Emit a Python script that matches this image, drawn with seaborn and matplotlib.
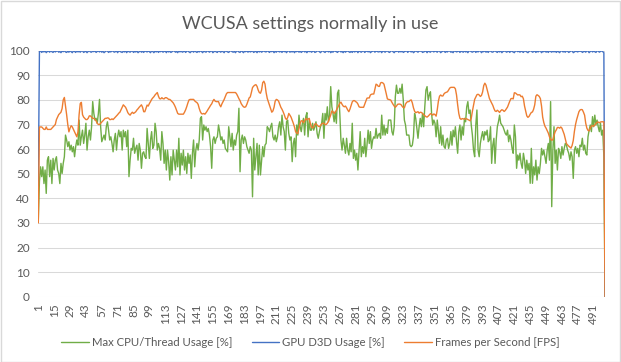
import numpy as np
import pandas as pd
import matplotlib
matplotlib.use("Agg")
import matplotlib.pyplot as plt
from matplotlib.patches import Rectangle
import seaborn as sns

title = "WCUSA settings normally in use"
series_names = ["Max CPU/Thread Usage [%]", "GPU D3D Usage [%]", "Frames per Second [FPS]"]
x_ticks = [1, 15, 29, 43, 57, 71, 85, 99, 113, 127, 141, 155, 169, 183, 197, 211, 225, 239,
           253, 267, 281, 295, 309, 323, 337, 351, 365, 379, 393, 407, 421, 435, 449, 463, 477, 491]
y_ticks = [0, 10, 20, 30, 40, 50, 60, 70, 80, 90, 100]

# ---- Max CPU/Thread Usage [%] (samples 1..501) ----
cpu_a = [31, 47, 52.8, 48.8, 52.8, 46, 51.5, 42, 55.5, 56.9, 48.8, 55.5,
         46, 56.2, 51.5, 55.5, 56.9, 51.5, 50.1, 46, 54.2, 50.1,
         54.2, 56.9, 65.7, 63.7, 61, 63, 59.6, 61.6, 58.9, 61,
         56.9, 61, 63.7, 61.6, 71.8, 61.6, 65, 67.7, 62.3, 65.7,
         70.5, 59.6, 65, 67.7, 63.7, 69.1, 79.3, 74.5, 71.8, 72.5,
         70.5, 74.5, 80.2, 69.1, 63, 64.4, 65.7, 63.7, 69.1, 71.1,
         67.7, 63.7, 65, 62.3, 58.9, 63.7, 66.4, 59.6, 65, 67.7,
         65, 67.1, 59.6, 67.7, 65, 67.1, 61, 67.7, 48.8, 55.5,
         60.3, 59.6]
cpu_b = [64.4, 58.3, 60.3, 61.6, 55.5, 62.3, 59.6, 52.2, 58.3, 58.9,
         56.9, 56.2, 68.4, 62.3, 56.2, 63.7, 67.1, 60.3, 61.6, 70.5,
         67.1, 59.6, 62.3, 60.3, 55.5, 67.1, 62.3, 54.2, 59.6, 51.5,
         59.6, 54.9, 47.4, 56.9, 49.5, 59.6, 55.5, 51.5, 59.6, 52.8,
         64.4, 49.5, 58.3, 53.5, 59.6, 51.5, 56.9, 50.1, 58.3, 54.2,
         57.6, 48.1, 58.3, 63.7, 52.8, 59.6, 62.3, 59.6, 63.7, 72.5,
         73.2, 63.7, 69.8, 67.7, 69.1, 67.1, 68.4, 65.7, 61, 52.2,
         63.7, 65, 62.3, 64.4, 65, 69.8, 67.1, 63.7, 65, 62.3,
         63.7, 60.3, 59.6, 58.9]
cpu_c = [69.1, 65, 61, 66.4, 59.6, 63.7, 61.6, 65.7, 67.1, 76.6,
         50.8, 63.7, 65.7, 62.3, 65, 63.7, 61, 59.6, 58.3, 61,
         59.6, 40.6, 64.4, 51.5, 56.9, 62.3, 49.5, 61.6, 49.5, 55.5,
         61, 56.9, 61.6, 62.3, 69.1, 68.4, 67.1, 69.1, 70.5, 65,
         63.7, 65.7, 63, 65, 69.1, 71.1, 65.7, 73.8, 69.1, 67.1,
         59.6, 71.1, 71.8, 66.4, 63.7, 65, 54.9, 62.3, 64.4, 56.9,
         69.8, 65.7, 73.8, 69.1, 67.1, 70.5, 72.5, 65.7, 73.2, 74.8,
         65, 71.8, 67.7, 67.7, 70.5, 67.7, 69.1, 71.1, 66.4, 64.4,
         67.1, 69.1, 70.5, 74.5]
cpu_d = [64.4, 74.5, 71.8, 77.2, 71.1, 73.8, 85.4, 77.2, 74.5, 71.1,
         75.2, 70.5, 82.7, 84, 74.5, 63.7, 59.6, 64.4, 61.6, 58.3,
         64.4, 59.6, 57.6, 62.3, 58.9, 70.5, 56.2, 59.6, 55.5, 58.3,
         51.5, 59.6, 67.1, 56.9, 61, 58.3, 64.4, 56.9, 61.6, 67.7,
         62.3, 67.1, 60.3, 63.7, 65, 64.4, 68.4, 64.4, 65.7, 66.4,
         64.4, 73.8, 65.7, 69.8, 65.7, 68.4, 66.4, 71.8, 71.8, 71.8,
         67.1, 65.7, 69.1, 81.3, 86, 82.7, 82.7, 84.7, 82.7, 86.4,
         79.9, 71.8, 69.8, 65.7, 65.7, 65.7, 61.6, 61, 61.6, 65,
         74.5, 72.5, 68.4, 64.4]
cpu_e = [69.1, 72.5, 69.1, 74.5, 69.1, 77.2, 84, 85.4, 79.9, 82,
         83.3, 74.5, 69.8, 71.8, 70.5, 65, 71.8, 67.1, 62.3, 69.1,
         61.6, 65.7, 61, 60.3, 63.7, 64.4, 60.3, 62.3, 67.1, 61.6,
         67.7, 65, 69.1, 63, 58.3, 67.1, 69.8, 63.7, 69.1, 65.7,
         72.5, 71.1, 77.2, 79.3, 74.5, 75.9, 69.8, 65.7, 59.6, 56.9,
         69.8, 75.9, 59.6, 56.9, 62.3, 65, 67.1, 63.7, 67.1, 65.7,
         67.7, 63, 63.7, 69.1, 54.2, 61.6, 64.4, 54.2, 63.7, 69.1,
         71.1, 73.8, 70.5, 69.8, 69.1, 67.7, 66.4, 65.7, 67.7, 63,
         65.7, 63.7, 60.3, 58.3]
cpu_f = [69.8, 65, 52.2, 57.6, 55.5, 58.3, 54.2, 52.2, 58.3, 55.5,
         50.1, 55.5, 51.5, 54.2, 46.1, 60.3, 46.1, 52.8, 49.5, 55.5,
         47.4, 52.8, 50.1, 54.2, 60.3, 57.6, 59.6, 56.9, 54.2, 59.6,
         62.3, 55.5, 79.3, 36.6, 59.6, 69.1, 54.2, 59.6, 51.5, 60.3,
         58.9, 56.2, 61, 57.6, 60.3, 62.3, 61.6, 59.6, 58.3, 55.5,
         58.9, 56.9, 48.1, 59.6, 61, 58.3, 60.3, 56.9, 61.6, 61,
         64.4, 59.6, 61.6, 58.3, 57.6, 65, 67.7, 69.8, 67.1, 73.2,
         69.1, 73.8, 69.8, 71.8, 69.1, 67.1, 70.5, 65.7, 67.7, 56.9,
         0]

# ---- GPU D3D Usage [%] ----
gpu_a = [45,
         99.6, 100, 99.3, 99.8, 99.5, 100, 99.2, 99.7, 99.9, 99.4, 100, 99.6, 99.3, 99.9, 99.5, 99.8, 100, 99.4, 99.7, 99.2, 99.9, 99.6, 100, 99.5, 99.3,
         99.8, 99.4, 100, 99.6, 99.2, 99.9, 99.7, 99.3, 100, 99.5, 99.8, 99.4, 99.9, 100, 99.3, 99.6, 99.8, 99.2, 99.7, 100, 99.5, 99.4, 99.9, 99.6, 100,
         99.3, 99.7, 99.9, 99.5, 100, 99.4, 99.8, 99.2, 99.6, 100, 99.9, 99.3, 99.7, 99.5, 100, 99.8, 99.4, 99.6, 99.9, 99.2, 100, 99.7, 99.5, 99.3, 99.8,
         99.5, 99.9, 99.2, 100, 99.6, 99.4, 99.8, 100, 99.3, 99.7, 99.5, 99.9, 99.2, 99.6, 100, 99.4, 99.8, 99.3, 100, 99.7, 99.5, 99.9, 99.6, 99.2, 100]
gpu_b = [99.7, 99.2, 99.9, 99.5, 100, 99.3, 99.8, 99.6, 100, 99.4, 99.7, 99.9, 99.2, 100, 99.5, 99.8, 99.3, 99.6, 100, 99.9, 99.4, 99.7, 99.2, 100, 99.5,
         100, 99.4, 99.6, 99.9, 99.3, 99.8, 100, 99.5, 99.2, 99.7, 99.9, 99.4, 100, 99.6, 99.3, 99.8, 99.5, 100, 99.7, 99.2, 99.9, 99.6, 99.4, 100, 99.8,
         99.4, 99.8, 100, 99.2, 99.6, 99.9, 99.5, 99.3, 100, 99.7, 99.4, 99.9, 99.6, 99.2, 100, 99.8, 99.5, 99.3, 99.9, 100, 99.6, 99.4, 99.7, 99.2, 100,
         99.9, 99.5, 99.3, 100, 99.7, 99.2, 99.8, 99.6, 100, 99.4, 99.9, 99.5, 99.7, 100, 99.3, 99.6, 99.8, 99.2, 100, 99.5, 99.9, 99.4, 99.7, 100, 99.6]
gpu_c = [99.5, 100, 99.7, 99.3, 99.9, 99.6, 100, 99.2, 99.8, 99.4, 100, 99.7, 99.5, 99.9, 99.3, 100, 99.6, 99.8, 99.2, 99.9, 100, 99.4, 99.7, 99.5, 100,
         99.2, 99.8, 99.6, 100, 99.4, 99.9, 99.3, 99.7, 100, 99.5, 99.8, 99.2, 100, 99.6, 99.9, 99.4, 99.7, 100, 99.3, 99.5, 99.9, 100, 99.6, 99.2, 99.8,
         100, 99.6, 99.3, 99.8, 99.9, 99.5, 100, 99.2, 99.7, 99.4, 100, 99.8, 99.6, 99.3, 99.9, 100, 99.5, 99.7, 99.2, 100, 99.4, 99.8, 99.9, 99.6, 99.3,
         99.8, 99.3, 100, 99.5, 99.7, 99.9, 99.2, 100, 99.6, 99.4, 99.8, 100, 99.3, 99.7, 99.9, 99.5, 100, 99.2, 99.6, 99.8, 100, 99.4, 99.9, 99.7, 99.5]
gpu_d = [99.6, 99.9, 99.2, 100, 99.7, 99.4, 99.8, 100, 99.5, 99.3, 99.9, 100, 99.6, 99.2, 99.8, 99.7, 100, 99.4, 99.9, 99.5, 100, 99.3, 99.6, 99.8, 100,
         99.3, 100, 99.8, 99.5, 99.9, 99.2, 99.6, 100, 99.7, 99.4, 99.9, 99.8, 100, 99.3, 99.5, 99.7, 100, 99.2, 99.9, 99.6, 99.4, 100, 99.8, 99.5, 99.9,
         99.7, 99.4, 100, 99.9, 99.2, 99.6, 99.8, 100, 99.3, 99.7, 99.5, 100, 99.9, 99.4, 99.6, 99.2, 100, 99.8, 99.5, 99.7, 100, 99.3, 99.9, 99.6, 99.4,
         100, 99.5, 99.8, 99.2, 99.9, 100, 99.6, 99.4, 99.7, 100, 99.3, 99.8, 99.5, 99.9, 100, 99.2, 99.7, 99.6, 100, 99.4, 99.8, 99.3, 100, 99.9, 99.5]
gpu_e = [99.4, 99.8, 100, 99.6, 99.3, 99.9, 99.5, 100, 99.2, 99.7, 99.8, 100, 99.4, 99.6, 99.9, 99.3, 100, 99.7, 99.5, 99.2, 99.9, 100, 99.6, 99.8, 99.4,
         99.9, 99.6, 99.3, 100, 99.8, 99.5, 99.2, 99.7, 100, 99.9, 99.4, 99.6, 100, 99.3, 99.8, 99.5, 99.9, 100, 99.2, 99.7, 99.6, 100, 99.4, 99.8, 99.3,
         100, 99.7, 99.4, 99.9, 99.5, 100, 99.3, 99.8, 99.6, 99.2, 100, 99.9, 99.5, 99.7, 99.4, 100, 99.8, 99.3, 99.6, 99.9, 100, 99.2, 99.5, 99.8, 99.7,
         99.5, 99.9, 99.7, 100, 99.3, 99.6, 99.8, 99.4, 100, 99.9, 99.2, 99.7, 100, 99.5, 99.8, 99.6, 99.3, 100, 99.9, 99.4, 99.7, 100, 99.6, 99.2, 0]

# ---- Frames per Second [FPS] ----
fps_a = [30, 69, 69, 69, 68.5, 68, 68, 69, 68, 68, 68, 68, 68.5, 69, 69.5, 70, 72, 73, 74, 74.5,
         75, 76.5, 80, 81, 77.5, 74, 70, 67, 68.5, 69.5, 69, 68, 67, 66, 65, 67, 74, 78.5, 79, 74,
         73, 72.5, 72, 72, 72.5, 73.5, 73.5, 73, 72.5, 72.5, 72, 71.5, 70.5, 70, 70, 70.5, 71, 71.5, 72, 72.5,
         72.5, 72.7, 72.6, 72, 72, 72.3, 72, 72.5, 73, 73.5, 74, 74.6, 75, 76, 77, 78, 77.5, 77, 76, 74.8,
         74.2, 73.8, 74.5, 75]
fps_b = [74.5, 74.8, 75.2, 75.9, 76.4, 77, 77.5, 78, 77, 75.2, 75.2, 76.5, 77.9, 77.5, 78.5, 79.3, 80.2, 80.8, 81.3, 82,
         82.5, 83, 81.5, 80.5, 80.4, 80.9, 80.5, 80.4, 80.9, 80.9, 80.6, 80.2, 80.2, 79.8, 79.3, 78.8, 78, 77, 75.8, 74.5,
         74.2, 74.2, 74.2, 74.2, 74.2, 75, 76, 77.3, 78.8, 80, 80.2, 80.2, 80.2, 80.2, 79.6, 79.2, 78.9, 78.2, 76.5, 75.2,
         74.4, 74.3, 74.5, 74.2, 74.8, 75.5, 76.3, 77, 77.8, 78.4, 79.5, 80.2, 79.5, 79.3, 79.3, 79.3, 78, 77.2, 78.4, 79.3,
         80.2, 81.3, 82.5, 83]
fps_c = [83, 83, 83, 83, 83, 83, 83, 82.4, 81.5, 80.5, 79.7, 78.5, 77.8, 77.2, 77, 77.2, 78.2, 79.5, 80.8, 81.2,
         83, 85, 85.6, 86, 86.2, 85.5, 84, 83, 82.7, 84, 87, 87.6, 86.5, 83, 80.6, 79.2, 77.8, 76.5, 75, 75.5,
         77, 79.5, 80.2, 80, 79.5, 78.3, 77, 76.2, 75.2, 74, 72.6, 72, 72.8, 74.5, 73.8, 73, 71.8, 70.5, 69, 67.1,
         66.5, 66.3, 68.4, 70.5, 71.5, 71.5, 70.7, 71.5, 72.5, 71.9, 72.2, 72.5, 70.5, 69, 68.6, 69.1, 70.2, 70.3, 69.8, 69.3,
         69.1, 69.6, 70.2, 70.5]
fps_d = [70.5, 70, 70, 70.5, 71.3, 72.6, 73.9, 75.5, 75.2, 74.5, 75, 75.8, 76.8, 77.7, 78.6, 79.1, 78.2, 77.5, 77.2, 77.5,
         76.8, 75.9, 75.2, 76.3, 77.8, 79.2, 79.7, 79.7, 79.3, 79, 78.3, 77.2, 77, 77, 77, 77, 78.3, 79.5, 80.7, 80.8,
         80.8, 82, 82.3, 82.4, 82.4, 84.5, 86.4, 86.1, 85.5, 85.5, 86.9, 87.1, 86.9, 86.4, 84.5, 82.5, 80.4, 80.2, 80.1, 79.9,
         79, 78.2, 77.5, 77, 77.5, 78.2, 78.3, 78.3, 78.1, 77.4, 76.9, 76.8, 78.3, 79, 79.3, 79.3, 79.8, 80, 78.8, 76.8,
         75.4, 74.8, 75, 75.2]
fps_e = [74.6, 75, 74.9, 74.5, 74, 73.6, 73.2, 73, 73.4, 73.9, 74.4, 74.2, 73.8, 74.3, 74, 73.4, 76, 79.5, 81.5, 82,
         81.6, 81.6, 82.5, 82.9, 83.1, 83.3, 84, 84.8, 85.1, 85.1, 85.1, 85.1, 84.5, 82, 78, 74.5, 72.5, 72.1, 72.4, 72.3,
         72.1, 72.4, 72.3, 72, 71.8, 71.5, 72.5, 75.4, 77.8, 80.2, 81.2, 82.1, 82.3, 82, 81.4, 81.8, 83.2, 85.8, 86.8, 86,
         84.2, 82.5, 80.6, 79.6, 78.7, 77.8, 76.5, 75.5, 75.3, 75.8, 75.4, 74.9, 75.6, 76, 75.8, 75.3, 75.7, 76.4, 77.1, 78.3,
         79.5, 80.5, 80.6, 80.4]
fps_f = [82.9, 82.8, 82.4, 82, 82.1, 82, 81.3, 81.5, 80.5, 77.5, 75.5, 73.5, 72.9, 73.3, 74.2, 74.9, 75.1, 76.2, 78, 81.5,
         82.1, 81.8, 81.4, 80.5, 77.5, 73, 70.8, 69.3, 68.5, 67.5, 66.5, 65, 64, 63.6, 63.8, 65.5, 67, 67.8, 68.8, 68.8,
         68.5, 69, 68.5, 67.3, 66, 64, 62.2, 61.7, 61.2, 60.8, 60.4, 61.5, 63.5, 67.2, 70, 72, 73.6, 75.2, 75.9, 76.1,
         76, 75, 73.8, 70.5, 68.5, 67.6, 67.4, 68.5, 69.4, 69.5, 69.3, 69.8, 70.4, 70.9, 71, 70.7, 71, 71.1, 71.1, 71.1,
         0]

cpu = cpu_a + cpu_b + cpu_c + cpu_d + cpu_e + cpu_f
gpu = gpu_a + gpu_b + gpu_c + gpu_d + gpu_e
fps = fps_a + fps_b + fps_c + fps_d + fps_e + fps_f

colors = ["#70AD47", "#4472C4", "#ED7D31"]
text_color = "#595959"
grid_color = "#D9D9D9"

sns.set_theme(style="white")
plt.rcParams["font.family"] = ["Lato", "DejaVu Sans"]

fig = plt.figure(figsize=(6.21, 3.62), dpi=100)
ax = fig.add_axes([38.3 / 621, 1 - 296.7 / 362, (605 - 38.3) / 621, (296.7 - 50.7) / 362])

for name, vals, col in zip(series_names, [cpu, gpu, fps], colors):
    d = pd.DataFrame({"sample": np.arange(1, len(vals) + 1), "value": vals})
    sns.lineplot(data=d, x="sample", y="value", ax=ax, color=col, linewidth=1.0,
                 label=name, solid_joinstyle="round")

ax.set_xlim(1, len(cpu))
ax.set_ylim(0, 100)
ax.set_yticks(y_ticks)
ax.set_yticklabels([str(v) for v in y_ticks])
ax.set_xticks(x_ticks)
ax.set_xticklabels([str(v) for v in x_ticks], rotation=90, ha="center", va="top")
ax.set_xlabel("")
ax.set_ylabel("")
ax.grid(axis="y", color=grid_color, linewidth=0.75)
ax.grid(axis="x", visible=False)
ax.set_axisbelow(True)
for s in ax.spines.values():
    s.set_visible(False)
ax.tick_params(axis="both", length=0, labelsize=8.5, colors=text_color)
ax.tick_params(axis="y", pad=6)
ax.tick_params(axis="x", pad=5)

ax.get_legend().remove()
handles, labels = ax.get_legend_handles_labels()
fig.legend(handles, labels, loc="center", bbox_to_anchor=(0.5, 1 - 342 / 362), ncol=3,
           frameon=False, fontsize=8.2, handlelength=2.4, handletextpad=0.3,
           columnspacing=1.7, labelcolor=text_color)

fig.text(0.5, 1 - 24 / 362, title, ha="center", va="center", fontsize=13, color=text_color)

fig.patches.append(Rectangle((0.5 / 621, 0.5 / 362), 619.5 / 621, 360.5 / 362,
                             transform=fig.transFigure, fill=False,
                             edgecolor=grid_color, linewidth=1.0))

fig.savefig("out.png", dpi=100)
